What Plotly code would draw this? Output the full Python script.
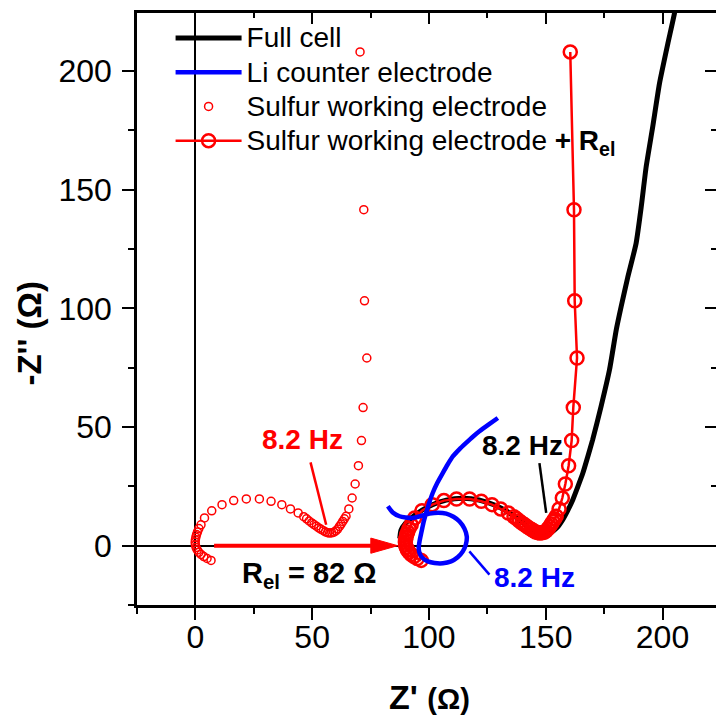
import plotly.graph_objects as go

# ---------------- data ----------------
full_x = [87.5, 88.0, 90.0, 93.5, 98.0, 104.0, 111.0, 118.0, 125.0, 131.0, 136.5, 141.0, 145.0,
          148.5, 152.0, 155.0, 157.3, 159.5, 161.6, 163.8, 165.9, 168.0, 170.1, 173.7, 177.3,
          180.2, 182.3, 185.1, 188.7, 190.9, 193.0, 195.8, 198.7, 202.3, 205.1, 206.0]
full_y = [3.0, 6.5, 9.5, 12.5, 15.5, 18.3, 19.8, 19.8, 18.3, 15.8, 12.5, 9.0, 6.3,
          4.8, 5.5, 7.8, 11.0, 15.0, 19.4, 25.0, 30.6, 37.5, 44.7, 58.7, 74.1,
          91.0, 100.8, 113.0, 127.5, 142.9, 159.7, 176.5, 194.8, 211.7, 224.3, 230.0]

li_x = [82.4, 84.5, 87.4, 90.0, 93.1, 96.5, 100.2, 104.0, 107.4, 110.5, 113.1, 115.2, 116.2,
        115.8, 114.5, 112.3, 109.5, 106.0, 102.4, 99.5, 97.3, 96.0, 95.6, 96.0, 96.7, 97.6,
        98.8, 100.1, 101.6, 103.6, 105.9, 108.0, 110.2, 113.0, 115.9, 118.8, 121.6, 125.5, 129.5]
li_y = [16.6, 14.0, 12.4, 11.9, 11.7, 12.5, 13.5, 13.9, 13.5, 12.2, 10.2, 7.2, 3.9,
        0.5, -2.4, -4.9, -6.6, -7.4, -7.3, -6.6, -5.2, -3.2, -1.0, 2.0, 5.3, 9.5,
        13.8, 18.0, 22.2, 26.5, 30.6, 34.2, 37.6, 40.6, 43.3, 45.9, 48.2, 51.0, 53.8]

sulfur_x = [6.7, 5.0, 3.6, 2.4, 1.5, 0.8, 0.3, 0.0, -0.1, 0.0, 0.2, 0.5, 0.9, 1.5, 2.4, 3.9,
            7.0, 11.4, 16.4, 21.8, 27.4, 32.4, 37.0, 40.7, 44.0, 46.4, 47.6, 48.7, 49.8, 50.8,
            51.8, 52.8, 53.8, 54.8, 55.7, 56.6, 57.5, 58.4, 59.3, 60.1, 60.9, 61.7, 62.4, 63.1,
            63.8, 64.5, 65.7, 67.1, 68.4, 69.8, 71.1, 71.8, 73.4, 72.4, 72.1, 70.5]
sulfur_y = [-6.2, -5.4, -4.6, -3.7, -2.8, -1.8, -0.8, 0.3, 1.4, 2.5, 3.6, 4.7, 5.8, 7.2, 8.8, 11.7,
            14.7, 17.3, 19.0, 19.7, 19.7, 18.7, 17.3, 15.5, 13.8, 12.2, 11.3, 10.4, 9.6, 8.9,
            8.2, 7.5, 6.9, 6.3, 5.8, 5.5, 5.3, 5.4, 5.7, 6.2, 7.0, 8.1, 9.1, 10.2,
            11.3, 12.4, 15.5, 20.1, 26.0, 33.7, 44.3, 58.2, 79.1, 103.2, 141.6, 208.1]

# shift of the "+ R_el" curve (axis units)
REL_SHIFT = 90.0
sulfur_rel_x = [v + REL_SHIFT for v in sulfur_x]

x_ticks = [0, 50, 100, 150, 200]
y_ticks = [0, 50, 100, 150, 200]
minor_ticks = [-25, 25, 75, 125, 175, 225]
X_RANGE = [-25, 222.9]
Y_RANGE = [-25, 224.5]

# annotation anchors (data units)
rel_arrow_x = [8.0, 86.6]
hz_red = (45.8, 44.6)
hz_black = (140.0, 42.1)
hz_blue = (145.2, -13.5)
rel_label = (48.8, -12.2)
lead_red = [(49.3, 35.1), (56.0, 8.8)]
lead_black = [(147.3, 34.8), (150.2, 13.8)]
lead_blue = [(117.3, -2.4), (125.9, -12.2)]

FONT = "Liberation Sans, Arial, sans-serif"


def big(txt):
    return "<span style='font-size:28px'>" + txt + "</span>"


fig = go.Figure()
fig.add_trace(go.Scatter(x=full_x, y=full_y, mode="lines", name=big("Full cell"), legendrank=1,
                         line=dict(color="black", width=5, shape="spline", smoothing=0.5)))
fig.add_trace(go.Scatter(x=sulfur_x, y=sulfur_y, mode="markers", name=big("Sulfur working electrode"),
                         legendrank=3,
                         marker=dict(symbol="circle-open", size=8, color="red", line=dict(width=1.5))))
fig.add_trace(go.Scatter(x=sulfur_rel_x, y=sulfur_y, mode="lines+markers",
                         name=big("Sulfur working electrode <b>+ R<sub>el</sub></b>"), legendrank=4,
                         line=dict(color="red", width=2.5),
                         marker=dict(symbol="circle-open", size=13, color="red", line=dict(width=2.5))))
fig.add_trace(go.Scatter(x=li_x, y=li_y, mode="lines", name=big("Li counter electrode"), legendrank=2,
                         line=dict(color="#0000ff", width=4.5, shape="spline", smoothing=0.5)))
fig.add_trace(go.Scatter(x=[None], y=[None], xaxis="x2", yaxis="y2", showlegend=False,
                         hoverinfo="skip"))

tick_font = dict(family=FONT, size=32, color="black")
fig.update_layout(
    width=717, height=715,
    margin=dict(l=137, r=1, t=13, b=110),
    paper_bgcolor="white", plot_bgcolor="white",
    font=dict(family=FONT, color="black"),
    showlegend=True,
    legend=dict(x=0.058, y=0.995, xanchor="left", yanchor="top", bgcolor="rgba(0,0,0,0)",
                font=dict(family=FONT, size=24, color="black"), itemwidth=66,
                tracegroupgap=0),
    xaxis=dict(range=X_RANGE, tickmode="array", tickvals=x_ticks, ticktext=[str(v) for v in x_ticks],
               ticks="outside", ticklen=12, tickwidth=2, tickcolor="black", ticklabelstandoff=-10,
               minor=dict(tickmode="array", tickvals=minor_ticks, ticks="outside", ticklen=6,
                          tickwidth=2, tickcolor="black"),
               showline=True, linewidth=2.5, linecolor="black", showgrid=False,
               zeroline=True, zerolinecolor="black", zerolinewidth=2, tickfont=tick_font),
    yaxis=dict(range=Y_RANGE, tickmode="array", tickvals=y_ticks, ticktext=[str(v) for v in y_ticks],
               ticks="outside", ticklen=12, tickwidth=2, tickcolor="black", ticklabelstandoff=4,
               minor=dict(tickmode="array", tickvals=minor_ticks, ticks="outside", ticklen=6,
                          tickwidth=2, tickcolor="black"),
               showline=True, linewidth=2.5, linecolor="black", showgrid=False,
               zeroline=True, zerolinecolor="black", zerolinewidth=2, tickfont=tick_font),
    xaxis2=dict(overlaying="x", side="top", range=X_RANGE, tickmode="array", tickvals=x_ticks,
                ticks="inside", ticklen=11, tickwidth=2, tickcolor="black", showticklabels=False,
                minor=dict(tickmode="array", tickvals=minor_ticks, ticks="inside", ticklen=5,
                           tickwidth=2, tickcolor="black"),
                showline=True, linewidth=2.5, linecolor="black", showgrid=False, zeroline=False),
    yaxis2=dict(overlaying="y", side="right", range=Y_RANGE, tickmode="array", tickvals=y_ticks,
                ticks="inside", ticklen=11, tickwidth=2, tickcolor="black", showticklabels=False,
                minor=dict(tickmode="array", tickvals=minor_ticks, ticks="inside", ticklen=5,
                           tickwidth=2, tickcolor="black"),
                showline=False, showgrid=False, zeroline=False),
)


def label(xy, text, color, size=28):
    fig.add_annotation(x=xy[0], y=xy[1], xref="x", yref="y", text=text, showarrow=False,
                       font=dict(family=FONT, size=size, color=color), xanchor="center",
                       yanchor="middle")


label(hz_red, "<b>8.2 Hz</b>", "red")
label(hz_black, "<b>8.2 Hz</b>", "black")
label(hz_blue, "<b>8.2 Hz</b>", "#0000ff")
label(rel_label, "<b>R<sub>el</sub> = 82 Ω</b>", "black", size=29)

for pts, col in [(lead_red, "red"), (lead_black, "black"), (lead_blue, "#0000ff")]:
    fig.add_shape(type="line", xref="x", yref="y", x0=pts[0][0], y0=pts[0][1],
                  x1=pts[1][0], y1=pts[1][1], line=dict(color=col, width=2.5))

# R_el arrow
head_len = 11.5
head_half = 3.2
fig.add_shape(type="line", xref="x", yref="y", x0=rel_arrow_x[0], y0=0,
              x1=rel_arrow_x[1] - head_len + 1, y1=0, line=dict(color="red", width=4))
tip = rel_arrow_x[1]
fig.add_shape(type="path", xref="x", yref="y",
              path=f"M {tip - head_len} {head_half} L {tip} 0 L {tip - head_len} {-head_half} Z",
              fillcolor="red", line=dict(color="red", width=1))

# axis titles
fig.add_annotation(x=0.505, y=-0.155, xref="paper", yref="paper", showarrow=False,
                   text="<b><span style='font-size:34px'>Z'</span> <span style='font-size:29px'>(Ω)</span></b>",
                   font=dict(family=FONT, size=34, color="black"), xanchor="center", yanchor="middle")
fig.add_annotation(x=-0.186, y=0.459, xref="paper", yref="paper", showarrow=False, textangle=-90,
                   text="<b>-Z'' (Ω)</b>",
                   font=dict(family=FONT, size=33, color="black"), xanchor="center", yanchor="middle")

fig.write_html("out.html")
